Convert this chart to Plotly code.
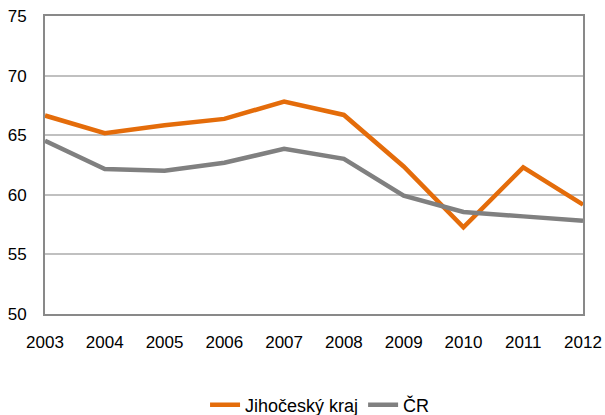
import plotly.graph_objects as go

years = [2003, 2004, 2005, 2006, 2007, 2008, 2009, 2010, 2011, 2012]
jihocesky = [66.65, 65.17, 65.84, 66.37, 67.82, 66.7, 62.38, 57.27, 62.3, 59.17]
cr = [64.53, 62.16, 62.02, 62.69, 63.86, 63.02, 59.93, 58.56, 58.19, 57.83]
series_names = ["Jihočeský kraj", "ČR"]
y_ticks = [50, 55, 60, 65, 70, 75]

fig = go.Figure()
fig.add_trace(go.Scatter(x=years, y=jihocesky, mode="lines", name=series_names[0],
                         line=dict(color="#E46C0A", width=4.5)))
fig.add_trace(go.Scatter(x=years, y=cr, mode="lines", name=series_names[1],
                         line=dict(color="#808080", width=4.5)))

fig.update_layout(
    width=605, height=415,
    margin=dict(l=45, r=22, t=16, b=101),
    paper_bgcolor="white", plot_bgcolor="white",
    font=dict(family="Liberation Sans, Arial, sans-serif", size=17, color="#000000"),
    showlegend=True,
    legend=dict(orientation="h", xref="container", yref="container",
                x=0.529, xanchor="center", y=0.024, yanchor="middle",
                font=dict(size=18), tracegroupgap=0),
    xaxis=dict(range=[2003, 2012], tickmode="array", tickvals=years,
               ticktext=[str(y) for y in years], showgrid=False,
               showline=True, linecolor="#898989", linewidth=2, mirror=True,
               ticks="", zeroline=False, automargin=False, ticklabelstandoff=12,
               ticklabeloverflow="allow"),
    yaxis=dict(range=[50, 75], tickvals=y_ticks, showgrid=True, gridcolor="#C0C0C0",
               gridwidth=1.5, showline=True, linecolor="#898989", linewidth=2, mirror=True,
               ticks="", zeroline=False, automargin=False, ticklabelstandoff=13,
               ticklabeloverflow="allow"),
)

# remove the browser's default page margin so the 605x415 figure fills the window
fig.write_html("out.html", config={"displayModeBar": False},
               post_script="document.body.style.margin='0';document.body.style.overflow='hidden';")
